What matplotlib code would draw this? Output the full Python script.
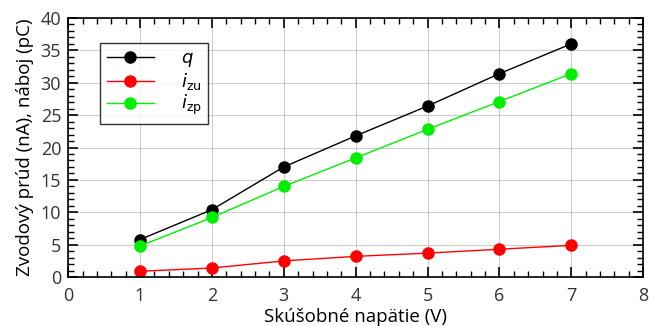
import numpy as np
import matplotlib.pyplot as plt
from matplotlib.ticker import MultipleLocator

# Values
napatie = [1, 2, 3, 4, 5, 6, 7]
q = [5.8, 10.4, 17.0, 21.8, 26.4, 31.4, 36.0]
i_zu = [0.9, 1.4, 2.5, 3.2, 3.7, 4.3, 4.9]
i_zp = [4.8, 9.2, 14.0, 18.4, 22.8, 27.1, 31.4]

plt.rcParams['font.family'] = ['Open Sans', 'DejaVu Sans']

fig = plt.figure(figsize=(6.49, 3.26), dpi=100)
ax = fig.add_axes([0.105, 0.150, 0.886, 0.795])

ax.plot(napatie, q, color='black', marker='o', markersize=8, lw=1, label='$q$')
ax.plot(napatie, i_zu, color='#ff0000', marker='o', markersize=8, lw=1, label='$i_{\\mathrm{zu}}$')
ax.plot(napatie, i_zp, color='#00ee00', marker='o', markersize=8, lw=1, label='$i_{\\mathrm{zp}}$')

ax.set_xlim(0, 8)
ax.set_ylim(0, 40)
ax.xaxis.set_major_locator(MultipleLocator(1))
ax.xaxis.set_minor_locator(MultipleLocator(0.2))
ax.yaxis.set_major_locator(MultipleLocator(5))
ax.yaxis.set_minor_locator(MultipleLocator(1))
ax.tick_params(which='both', direction='in', top=True, right=True, labelsize=13, colors='#333333')
ax.tick_params(which='major', length=7, width=1.2, color='black')
ax.tick_params(which='minor', length=4, width=1, color='black')
ax.tick_params(axis='x', which='major', pad=7)
ax.tick_params(axis='y', which='major', pad=5)
ax.grid(True, which='major', color='#cccccc', lw=0.8)
ax.set_axisbelow(True)
for s in ax.spines.values():
    s.set_linewidth(1.2)

ax.set_xlabel('Skúšobné napätie (V)', fontsize=13.5, labelpad=2)
ax.set_ylabel('Zvodový prúd (nA), náboj (pC)', fontsize=13.5, labelpad=5)

leg = ax.legend(loc='upper left', bbox_to_anchor=(0.056, 0.903), borderaxespad=0,
                fancybox=False, edgecolor='black', fontsize=13, handlelength=2.6,
                borderpad=0.35, labelspacing=0.08, handletextpad=1.5)
leg.get_frame().set_linewidth(1)

fig.savefig('out.png', dpi=100)
